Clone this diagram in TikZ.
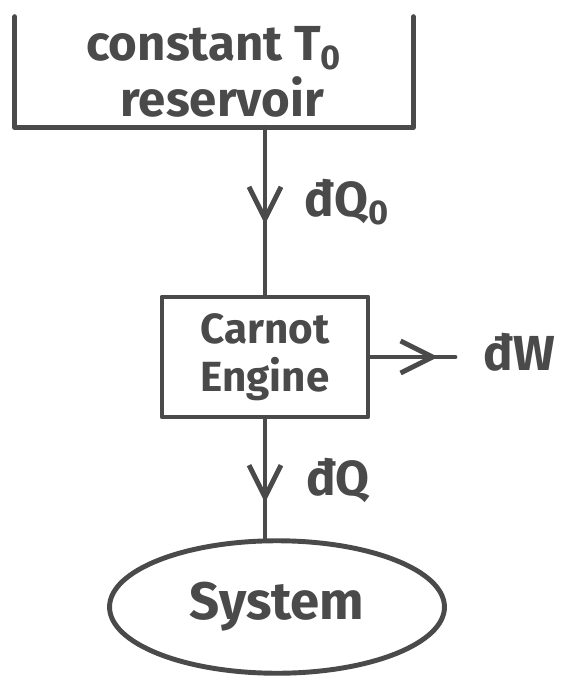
\documentclass[tikz,border=0pt]{standalone}
\usepackage{fontspec}
\setmainfont{Fira Sans}
\usepackage{xcolor}
\definecolor{penink}{HTML}{4A4A4A}
\usepackage{tikz}
\usetikzlibrary{arrows.meta,positioning,shapes.geometric,calc,decorations.markings}

\tikzset{
  ink/.style={draw=penink,line width=2.8pt,line cap=round,line join=round},
  midarrow/.style={postaction={decorate},decoration={markings,
      mark=at position #1 with {\arrow[penink,line width=2.8pt]{Straight Barb[length=6.4mm,width=6.4mm]}}}},
  flowlabel/.style={text=penink,font=\bfseries\fontsize{28}{32}\selectfont}
}

\begin{document}
\begin{tikzpicture}[x=0.02cm,y=-0.02cm]
\useasboundingbox (0,0) rectangle (566,678);

% reservoir, open at the top
\node (res) at (214,72) [minimum width=7.96cm,minimum height=2.2cm,align=left,
  text=penink,font=\bfseries\fontsize{28}{32}\selectfont]
  {constant T\textsubscript{0}\\\hspace*{0.7em}reservoir};
\draw[ink] (res.north west) -- (res.south west) -- (res.south east) -- (res.north east);

\node[ink,minimum width=4.12cm,minimum height=2.4cm,align=left,text=penink,
  font=\bfseries\fontsize{24}{27}\selectfont] (engine) at (265,357) {Carnot\\Engine};

\node[ink,ellipse,minimum width=6.7cm,minimum height=2.65cm,text=penink,
  font=\bfseries\fontsize{30}{34}\selectfont] (sys) at (277,607) {System};

\coordinate (wout) at (455,357);

% heat and work flows
\draw[ink,midarrow=0.58] (engine.north |- res.south) -- (engine.north);
\draw[ink,midarrow=0.8] (engine.east) -- (wout);
\draw[ink,midarrow=0.7] (engine.south) -- (engine.south |- sys.north);

\node[flowlabel] (q0) at (347,202) {đQ\textsubscript{0}};
\node[flowlabel] (w) at (519,352) {đW};
\node[flowlabel] (q) at (338,480) {đQ};
\end{tikzpicture}
\end{document}
